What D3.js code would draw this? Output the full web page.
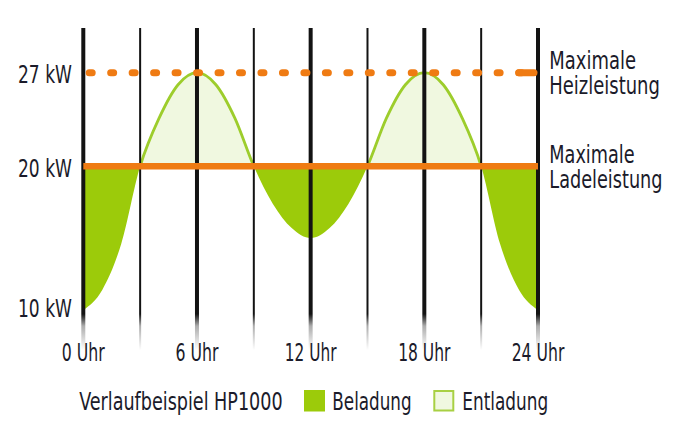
<!DOCTYPE html>
<html>
<head>
<meta charset="utf-8">
<script src="https://cdn.jsdelivr.net/npm/d3@7"></script>
<style>
  html, body { margin: 0; padding: 0; background: #ffffff; }
  svg { display: block; }
  text { font-family: "DejaVu Sans Condensed", "DejaVu Sans", sans-serif; fill: #1b1b2a; }
</style>
</head>
<body>
<svg id="chart" width="689" height="438"></svg>
<script>
// ---- data ----
const hours = [0,1,2,3,4,5,6,7,8,9,10,11,12,13,14,15,16,17,18,19,20,21,22,23,24];
const power = [10,11.4,14.6,20,23.6,26.1,27,26.1,23.6,20,17.4,15.7,15,15.7,17.4,20,23.6,26.1,27,26.1,23.6,20,14.6,11.4,10];
const gridHours = [0,3,6,9,12,15,18,21,24];
const majorHours = [0,6,12,18,24];
const xTickLabels = ["0 Uhr","6 Uhr","12 Uhr","18 Uhr","24 Uhr"];
const yTicks = [27,20,10];
const yTickLabels = ["27 kW","20 kW","10 kW"];
const maxHeat = 27;       // Maximale Heizleistung
const maxCharge = 20;     // Maximale Ladeleistung
const sideLabels = [["Maximale","Heizleistung"],["Maximale","Ladeleistung"]];
const legendTitle = "Verlaufbeispiel HP1000";
const legendItems = ["Beladung","Entladung"];

// ---- styles ----
const C = {
  dark: "#9ccb0a",
  light: "#f0f8e0",
  stroke: "#9dcd2c",
  orange: "#ef7b13",
  grid: "#131313"
};
const FS = 25.5;

const svg = d3.select("#chart");
const x = d3.scaleLinear().domain([0,24]).range([83.3,538]);
const y = d3.scaleLinear().domain([10,20,27]).range([310,166.3,72.7]);

const data = hours.map((h,i)=>({h, v: power[i]}));

const defs = svg.append("defs");
defs.append("clipPath").attr("id","below").append("rect")
  .attr("x",0).attr("y",y(maxCharge)).attr("width",689).attr("height",438);
defs.append("clipPath").attr("id","above").append("rect")
  .attr("x",0).attr("y",0).attr("width",689).attr("height",y(maxCharge));
const grad = defs.append("linearGradient").attr("id","fade")
  .attr("gradientUnits","userSpaceOnUse")
  .attr("x1",0).attr("x2",0).attr("y1",28).attr("y2",350);
grad.append("stop").attr("offset", (314-28)/322).attr("stop-color",C.grid).attr("stop-opacity",1);
grad.append("stop").attr("offset", (326-28)/322).attr("stop-color",C.grid).attr("stop-opacity",0.35);
grad.append("stop").attr("offset", 1).attr("stop-color",C.grid).attr("stop-opacity",0);

const curve = d3.curveMonotoneX;
const area = d3.area().x(d=>x(d.h)).y0(y(maxCharge)).y1(d=>y(d.v)).curve(curve);
const line = d3.line().x(d=>x(d.h)).y(d=>y(d.v)).curve(curve);

svg.append("path").datum(data).attr("d",area).attr("fill",C.light).attr("clip-path","url(#above)");
svg.append("path").datum(data).attr("d",area).attr("fill",C.dark).attr("clip-path","url(#below)");
svg.append("path").datum(data).attr("d",line).attr("fill","none")
  .attr("stroke",C.stroke).attr("stroke-width",2.8).attr("clip-path","url(#above)");

// vertical grid lines
svg.append("g").selectAll("rect").data(gridHours).join("rect")
  .attr("x", d => x(d) - (majorHours.includes(d) ? 2 : 1))
  .attr("width", d => majorHours.includes(d) ? 4 : 2)
  .attr("y", 28).attr("height", 322)
  .attr("fill", "url(#fade)");

// orange lines
svg.append("line")
  .attr("x1",x(0)).attr("x2",x(24)).attr("y1",y(maxCharge)).attr("y2",y(maxCharge))
  .attr("stroke",C.orange).attr("stroke-width",6.5);
svg.append("line")
  .attr("x1",x(0)).attr("x2",x(24)).attr("y1",y(maxHeat)).attr("y2",y(maxHeat))
  .attr("stroke",C.orange).attr("stroke-width",7).attr("stroke-linecap","round")
  .attr("stroke-dasharray","3,18.47").attr("stroke-dashoffset",15.57);
svg.append("line")
  .attr("x1",x(24)-19).attr("x2",x(24)-4).attr("y1",y(maxHeat)).attr("y2",y(maxHeat))
  .attr("stroke",C.orange).attr("stroke-width",7).attr("stroke-linecap","round");

// text helper: scale horizontally to a target width
function fit(parent, lines, x0, y0, w, anchor, lh) {
  const t = parent.append("text").attr("font-size", FS);
  lines.forEach((s,j)=>{
    t.append("tspan").attr("x",0).attr("y", j*(lh||0)).text(s);
  });
  let nat = 0;
  t.selectAll("tspan").each(function(){ nat = Math.max(nat, this.getComputedTextLength()); });
  const s = w / nat;
  const left = anchor === "end" ? x0 - w : anchor === "middle" ? x0 - w/2 : x0;
  t.attr("transform", `translate(${left},${y0}) scale(${s},1)`);
  return t;
}

// y labels
const gy = svg.append("g");
yTicks.forEach((v,i)=> fit(gy, [yTickLabels[i]], 72, Math.min(y(v)+10.3,317), 54, "end"));

// x labels
const xLabelW = [43,43,51.7,52.3,52.7];
const gx = svg.append("g");
majorHours.forEach((h,i)=> fit(gx, [xTickLabels[i]], x(h), 360.7, xLabelW[i], "middle"));

// side labels
const sideW = [110.7, 113.3];
const gs = svg.append("g");
[maxHeat,maxCharge].forEach((v,k)=> fit(gs, sideLabels[k], 549.3, y(v)-3.4, sideW[k], "start", 24.8));

// legend
const lg = svg.append("g");
fit(lg, [legendTitle], 79.3, 410, 203.4, "start");
lg.append("rect").attr("x",304).attr("y",390).attr("width",21).attr("height",21.5).attr("fill",C.dark);
fit(lg, [legendItems[0]], 332.3, 410, 79.4, "start");
lg.append("rect").attr("x",434.3).attr("y",391).attr("width",19).attr("height",19.5)
  .attr("fill",C.light).attr("stroke","#a8d043").attr("stroke-width",2);
fit(lg, [legendItems[1]], 462.3, 410, 86, "start");
</script>
</body>
</html>
